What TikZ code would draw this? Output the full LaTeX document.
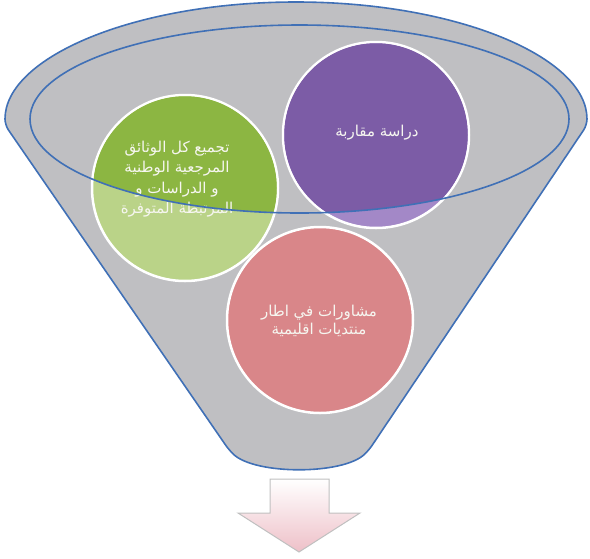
\documentclass[tikz,border=0pt]{standalone}
\usepackage{fontspec}
\newfontfamily\arabicfont[Script=Arabic]{DejaVu Sans}
\TeXXeTstate=1
\definecolor{funnelgrey}{RGB}{191,191,194}
\definecolor{funnelblue}{RGB}{64,112,182}
\definecolor{greenlight}{RGB}{186,211,136}
\definecolor{greendark}{RGB}{140,182,66}
\definecolor{purplelight}{RGB}{163,136,199}
\definecolor{purpledark}{RGB}{124,92,166}
\definecolor{pinkfill}{RGB}{217,134,137}
\definecolor{arrowpink}{RGB}{238,192,200}
\definecolor{arrowgrey}{RGB}{192,192,192}
\definecolor{softwhite}{RGB}{246,246,240}
\begin{document}
\begin{tikzpicture}[x=1pt,y=-1pt,
  funnel/.style={fill=funnelgrey, draw=funnelblue, line width=1.6pt},
  ring/.style={circle, draw=white, line width=2.5pt, minimum size=#1, inner sep=0pt},
  txt/.style={text=softwhite, align=center, font=\arabicfont\fontsize{15}{20}\selectfont},
  rimline/.style={draw=funnelblue, line width=1.6pt},
  downarrow/.style={top color=white, bottom color=arrowpink, draw=arrowgrey, line width=1pt}]
\useasboundingbox (0,0) rectangle (590,558);
% funnel body
\draw[funnel, rounded corners=6pt] (587,125) arc[start angle=0, end angle=180, x radius=291pt, y radius=123pt]
  -- (229,450) .. controls (255,475) and (343,475) .. (369,450) -- cycle;
% circles
\node[ring=186pt, fill=greenlight] (green) at (185,188) {};
\node[ring=186pt, fill=purplelight] (purple) at (376,135) {};
\node[ring=186pt, fill=pinkfill] (pink) at (320,320) {};
\begin{scope}
  \clip (299.5,119) ellipse [x radius=269.5pt, y radius=94pt];
  \fill[greendark] (green.center) circle [radius=91.75pt];
  \fill[purpledark] (purple.center) circle [radius=91.75pt];
\end{scope}
% texts
\node[txt, font=\arabicfont\fontsize{15}{20.5}\selectfont] (greentext) at (177,179)
  {\beginR تجميع كل الوثائق\endR\\\beginR المرجعية الوطنية\endR\\\beginR و الدراسات و\endR\\\beginR المرتبطة المتوفرة\endR};
\node[txt] (purpletext) at (377,133) {\beginR دراسة مقاربة\endR};
\node[txt, font=\arabicfont\fontsize{15}{18.5}\selectfont] (pinktext) at (319,321)
  {\beginR مشاورات في اطار\endR\\\beginR منتديات اقليمية\endR};
% inner rim ellipse
\draw[rimline] (299.5,119) ellipse [x radius=269.5pt, y radius=94pt];
% down arrow
\draw[downarrow] (270,479) -- (329,479) -- (329,513) -- (360,513) -- (299,552) -- (238,513) -- (270,513) -- cycle;
\end{tikzpicture}
\end{document}
